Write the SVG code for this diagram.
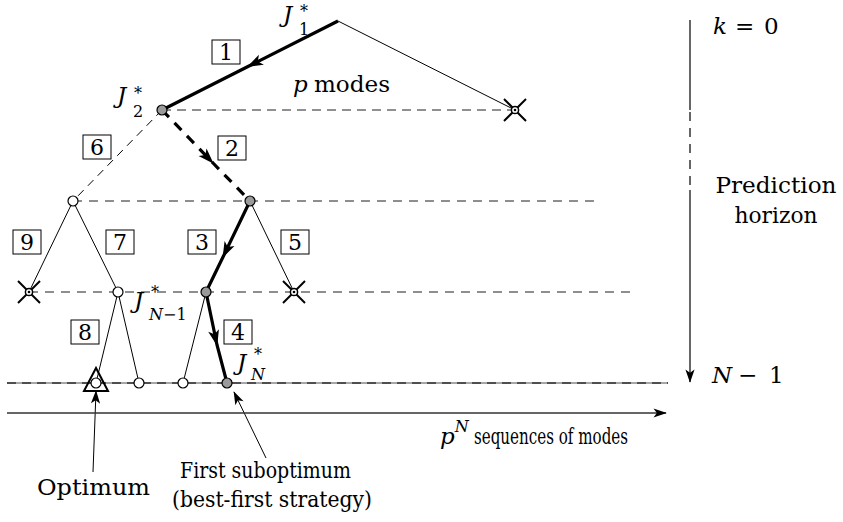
<svg xmlns="http://www.w3.org/2000/svg" width="843" height="522" viewBox="0 0 843 522">
<defs>
<marker id="ah" viewBox="-16 -7 18 14" markerWidth="18" markerHeight="14" refX="0" refY="0" orient="auto" markerUnits="userSpaceOnUse">
<path d="M1,0 L-15,-5.5 L-11,0 L-15,5.5 Z" fill="#000"/>
</marker>
<marker id="ahs" viewBox="-16 -7 18 14" markerWidth="15" markerHeight="12" refX="0" refY="0" orient="auto" markerUnits="userSpaceOnUse">
<path d="M1,0 L-15,-5.5 L-11,0 L-15,5.5 Z" fill="#000"/>
</marker>
<g id="xmark">
<line x1="-11" y1="-11" x2="11" y2="11" stroke="#000" stroke-width="2"/>
<line x1="-11" y1="11" x2="11" y2="-11" stroke="#000" stroke-width="2"/>
<circle r="3.6" fill="#fff" stroke="#000" stroke-width="1.5"/>
<circle r="1.3" fill="#000"/>
</g>
</defs>
<style>
text{font-family:"DejaVu Serif","Liberation Serif","Times New Roman",serif;fill:#000}
.t{font-size:23px}
.b{font-size:22px}
.i{font-style:italic}
.s{font-size:16px}
.d{font-size:22px;text-anchor:middle}
.box{fill:#fff;stroke:#000;stroke-width:1}
.thin{stroke:#000;stroke-width:1;fill:none}
.thick{stroke:#000;stroke-width:3.2;fill:none}
.lvl{stroke:#6a6a6a;stroke-width:1.6;stroke-dasharray:9 7;fill:none}
.wn{fill:#fff;stroke:#000;stroke-width:1.2}
.gn{fill:#9a9a9a;stroke:#000;stroke-width:1.2}
</style>

<g id="levels">
<line class="lvl" x1="162" y1="110" x2="515" y2="110" style="stroke:#222;stroke-width:1.1;stroke-dasharray:9 6"/>
<line class="lvl" x1="73" y1="201" x2="594" y2="201"/>
<line class="lvl" x1="29" y1="292" x2="637" y2="292"/>
<line x1="7" y1="383" x2="668" y2="383" stroke="#8a8a8a" stroke-width="1.6"/>
<line x1="7" y1="383" x2="668" y2="383" stroke="#333" stroke-width="1.6" stroke-dasharray="9 6"/>
</g>

<g id="connectors">
<line class="thin" x1="338" y1="21" x2="515" y2="110"/>
<path class="thick" d="M338,21 L248,66.5 L162,110" marker-mid="url(#ah)"/>
<line class="thin" x1="162" y1="110" x2="73" y2="201" stroke-dasharray="8 6"/>
<path class="thick" d="M162,110 L213,163 L250,201" stroke-dasharray="10 8" marker-mid="url(#ah)"/>
<line class="thin" x1="73" y1="201" x2="29" y2="292"/>
<line class="thin" x1="73" y1="201" x2="118" y2="292"/>
<path class="thick" d="M250,201 L223,257 L206,292" marker-mid="url(#ah)"/>
<line class="thin" x1="250" y1="201" x2="294" y2="292"/>
<line class="thin" x1="118" y1="292" x2="96" y2="383"/>
<line class="thin" x1="118" y1="292" x2="139" y2="383"/>
<line class="thin" x1="206" y1="292" x2="183" y2="383"/>
<path class="thick" d="M206,292 L217,345 L227,383" marker-mid="url(#ah)"/>
<line class="thin" x1="93" y1="472" x2="96" y2="391" marker-end="url(#ahs)"/>
<line class="thin" x1="266" y1="458" x2="234" y2="392" marker-end="url(#ahs)"/>
</g>

<g id="axis-sequences">
<line x1="7" y1="413" x2="666" y2="413" stroke="#333" stroke-width="1.4" marker-end="url(#ahs)"/>
<text class="t" x="440" y="444"><tspan class="i">p</tspan><tspan class="s i" dy="-12">N</tspan><tspan class="b" dy="12" x="474" textLength="154" lengthAdjust="spacingAndGlyphs">sequences of modes</tspan></text>
</g>

<g id="axis-horizon">
<line x1="690" y1="20" x2="690" y2="110" stroke="#000" stroke-width="1.2"/>
<line x1="690" y1="112" x2="690" y2="190" stroke="#000" stroke-width="1.2" stroke-dasharray="9 7"/>
<line x1="690" y1="190" x2="690" y2="382" stroke="#000" stroke-width="1.2" marker-end="url(#ahs)"/>
<text class="t" x="713" y="34"><tspan class="i">k</tspan><tspan x="735">=</tspan><tspan x="764">0</tspan></text>
<text class="t" x="776" y="193" text-anchor="middle" textLength="121" lengthAdjust="spacingAndGlyphs">Prediction</text>
<text class="t" x="776" y="223" text-anchor="middle" textLength="83" lengthAdjust="spacingAndGlyphs">horizon</text>
<text class="t" x="712" y="383"><tspan class="i">N</tspan><tspan x="738">−</tspan><tspan x="769">1</tspan></text>
</g>

<g id="n-root">
<text class="t" x="283" y="22"><tspan class="i">J</tspan><tspan class="s" x="300" y="17">*</tspan><tspan class="s" x="299" y="35">1</tspan></text>
</g>
<g id="n-x1"><use href="#xmark" x="515" y="110"/></g>
<g id="n-j2">
<circle class="gn" cx="162" cy="110" r="5"/>
<text class="t" x="117" y="103"><tspan class="i">J</tspan><tspan class="s" x="134" y="99">*</tspan><tspan class="s" x="133" y="117">2</tspan></text>
</g>
<g id="n-l2a"><circle class="wn" cx="73" cy="201" r="5"/></g>
<g id="n-l2b"><circle class="gn" cx="250" cy="201" r="5"/></g>
<g id="n-x2"><use href="#xmark" x="29" y="292"/></g>
<g id="n-l3a"><circle class="wn" cx="118" cy="292" r="5"/></g>
<g id="n-jn1">
<circle class="gn" cx="206" cy="292" r="5"/>
<text class="t" x="134" y="308"><tspan class="i">J</tspan><tspan class="s" x="151" y="298">*</tspan><tspan class="s i" x="149" y="320">N</tspan><tspan class="s" x="163" y="320">−1</tspan></text>
</g>
<g id="n-x3"><use href="#xmark" x="294" y="292"/></g>
<g id="n-opt">
<polygon points="96,368 84,391 108,391" fill="none" stroke="#000" stroke-width="2"/>
<circle class="wn" cx="96" cy="383" r="5"/>
</g>
<g id="n-l4b"><circle class="wn" cx="139" cy="383" r="5"/></g>
<g id="n-l4c"><circle class="wn" cx="183" cy="383" r="5"/></g>
<g id="n-jn">
<circle class="gn" cx="227" cy="383" r="5"/>
<text class="t" x="237" y="370"><tspan class="i">J</tspan><tspan class="s" x="254" y="360">*</tspan><tspan class="s i" x="251" y="380">N</tspan></text>
</g>

<g id="labels">
<text class="t" x="293" y="92"><tspan class="i">p</tspan><tspan x="314" textLength="76" lengthAdjust="spacingAndGlyphs">modes</tspan></text>
<text class="t" x="37" y="495" textLength="113" lengthAdjust="spacingAndGlyphs">Optimum</text>
<text class="b" x="180" y="478" textLength="171" lengthAdjust="spacingAndGlyphs">First suboptimum</text>
<text class="b" x="172" y="507" textLength="200" lengthAdjust="spacingAndGlyphs">(best-first strategy)</text>
</g>

<g id="steps">
<rect class="box" x="212" y="40" width="28" height="24"/><text class="d" x="226" y="60">1</text>
<rect class="box" x="218" y="136" width="28" height="24"/><text class="d" x="232" y="156">2</text>
<rect class="box" x="188" y="230" width="28" height="24"/><text class="d" x="202" y="250">3</text>
<rect class="box" x="224" y="320" width="28" height="24"/><text class="d" x="238" y="340">4</text>
<rect class="box" x="281" y="230" width="28" height="24"/><text class="d" x="295" y="250">5</text>
<rect class="box" x="83" y="135" width="28" height="24"/><text class="d" x="97" y="155">6</text>
<rect class="box" x="106" y="230" width="28" height="24"/><text class="d" x="120" y="250">7</text>
<rect class="box" x="71" y="320" width="28" height="24"/><text class="d" x="85" y="340">8</text>
<rect class="box" x="13" y="230" width="28" height="24"/><text class="d" x="27" y="250">9</text>
</g>
</svg>
